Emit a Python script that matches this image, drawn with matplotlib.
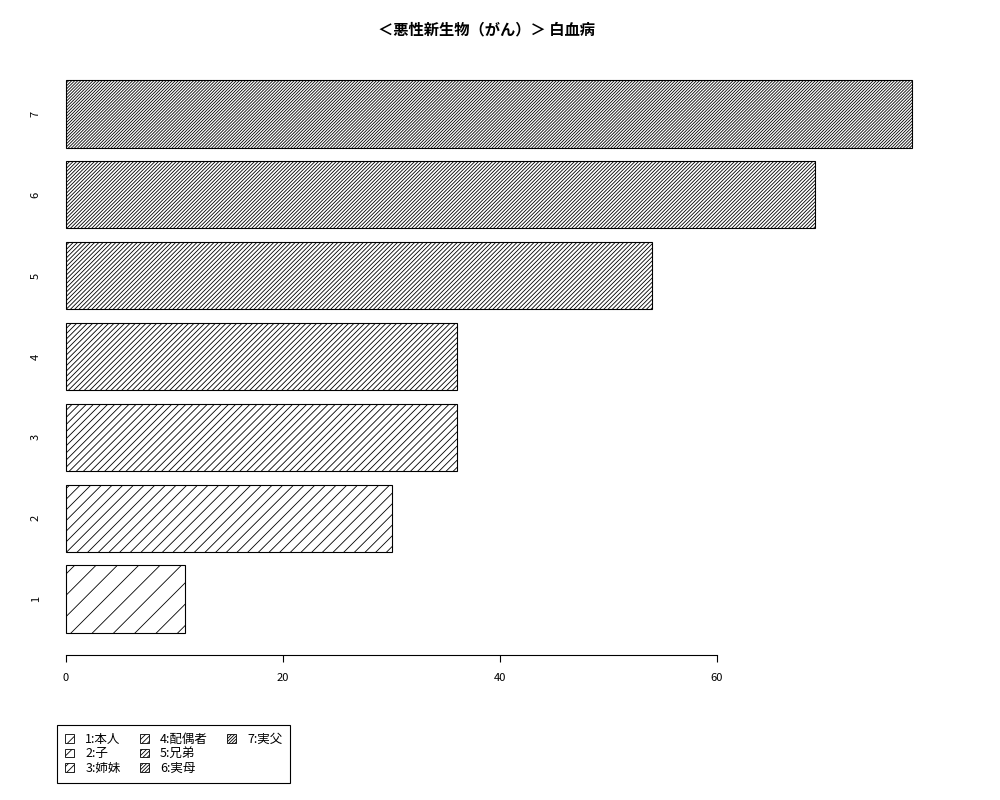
import matplotlib
matplotlib.use("Agg")
import matplotlib.pyplot as plt
import matplotlib.patches as mpatches
import numpy as np

# low dpi so that hatch spacing (one hatch unit = 1 inch) matches the R densities
DPI = 64
S = 100 / DPI  # scale for point sizes so they look like at 100 dpi

plt.rcParams['font.family'] = ['Noto Sans CJK JP', 'DejaVu Sans']
plt.rcParams['hatch.linewidth'] = 0.6 * S

# data
categories = ['1', '2', '3', '4', '5', '6', '7']
values = [11, 30, 36, 36, 54, 69, 78]
legend_names = ['1:本人', '2:子', '3:姉妹', '4:配偶者', '5:兄弟', '6:実母', '7:実父']
title = '＜悪性新生物（がん）＞ 白血病'

hatches = ['/' * k for k in range(1, 8)]

fig = plt.figure(figsize=(1000 / DPI, 800 / DPI), dpi=DPI)
ax = fig.add_axes([0.045, 1 - 655 / 800, 0.947 - 0.045, (655 - 58) / 800])

# R barplot style positions: width 1, space 0.2
ypos = 0.7 + 1.2 * np.arange(len(values))
for y, v, h in zip(ypos, values, hatches):
    ax.barh(y, v, height=1.0, color='white', edgecolor='black',
            linewidth=0.8 * S, hatch=h)

ax.set_xlim(-(66 - 45) / 10.85, (947 - 66) / 10.85)
ax.set_ylim(0.2 - 0.328, 0.2 + 8.2 + 0.328)

for s in ['top', 'right', 'left']:
    ax.spines[s].set_visible(False)
ax.spines['bottom'].set_bounds(0, 60)
ax.spines['bottom'].set_linewidth(0.8 * S)
ax.set_xticks([0, 20, 40, 60])
ax.tick_params(axis='x', length=5 * S, width=0.8 * S, labelsize=8 * S, pad=8 * S)
ax.set_yticks(ypos)
ax.set_yticklabels(categories, rotation=90, va='center')
ax.tick_params(axis='y', length=0, labelsize=8 * S, pad=3 * S)

fig.text(0.486, 1 - 29 / 800, title, ha='center', va='center',
         fontsize=11 * S, fontweight='bold')

handles = [mpatches.Patch(facecolor='white', edgecolor='black', hatch=h,
                          linewidth=0.6 * S, label=n)
           for h, n in zip(hatches, legend_names)]
# pad to 9 entries so the columns fill 3 / 3 / 1 like R's legend
labels = list(legend_names)
while len(handles) < 9:
    handles.append(mpatches.Patch(visible=False))
    labels.append('')
leg = fig.legend(handles, labels, ncol=3, loc='upper left',
                 bbox_to_anchor=(0.057, 1 - 725 / 800), fontsize=9 * S,
                 frameon=True, fancybox=False, edgecolor='black',
                 framealpha=1, borderaxespad=0, handlelength=0.75,
                 handleheight=0.7, labelspacing=0.12, columnspacing=1.5,
                 handletextpad=0.9, borderpad=0.62)
leg.get_frame().set_linewidth(0.8 * S)

plt.savefig('out.png', dpi=DPI)
